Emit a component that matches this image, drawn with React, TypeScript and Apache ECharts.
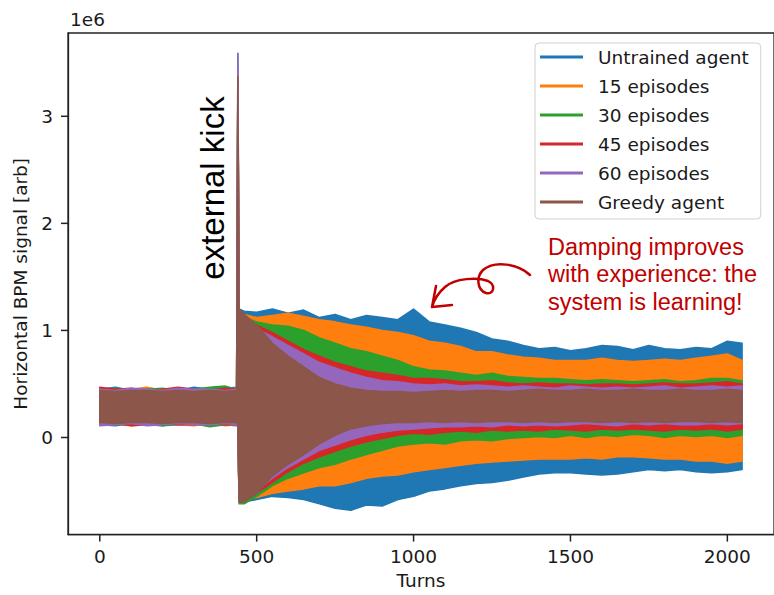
import React, { useEffect, useRef } from "react";
import * as echarts from "echarts";

const turns = [0, 50, 100, 150, 200, 250, 300, 350, 400, 436, 440, 444, 460, 500, 550, 600, 650, 700, 750, 800, 850, 900, 950, 1000, 1050, 1100, 1150, 1200, 1250, 1300, 1350, 1400, 1450, 1500, 1550, 1600, 1650, 1700, 1750, 1800, 1850, 1900, 1950, 2000, 2047];

const seriesNames = ["Untrained agent", "15 episodes", "30 episodes", "45 episodes", "60 episodes", "Greedy agent"];
const seriesColors = ["#1f77b4", "#ff7f0e", "#2ca02c", "#d62728", "#9467bd", "#8c564b"];

// Upper / lower envelopes of each signal, in units of 1e6
const untrainedUpper = [0.45, 0.47, 0.44, 0.46, 0.45, 0.44, 0.47, 0.45, 0.46, 0.47, 3.59, 1.2, 1.18, 1.17, 1.2, 1.16, 1.19, 1.12, 1.15, 1.1, 1.14, 1.12, 1.1, 1.2, 1.08, 1.05, 1.02, 0.98, 0.92, 0.9, 0.86, 0.83, 0.84, 0.81, 0.83, 0.86, 0.85, 0.82, 0.86, 0.83, 0.82, 0.84, 0.83, 0.9, 0.88];
const untrainedLower = [0.12, 0.11, 0.13, 0.12, 0.11, 0.13, 0.12, 0.11, 0.12, 0.11, 0.12, -0.6, -0.6, -0.58, -0.55, -0.56, -0.58, -0.62, -0.66, -0.68, -0.63, -0.64, -0.58, -0.55, -0.5, -0.48, -0.45, -0.43, -0.42, -0.4, -0.37, -0.34, -0.33, -0.33, -0.34, -0.35, -0.34, -0.32, -0.3, -0.31, -0.3, -0.32, -0.33, -0.32, -0.3];

const ep15Upper = [0.46, 0.44, 0.45, 0.47, 0.44, 0.45, 0.44, 0.46, 0.45, 0.46, 3.4, 1.18, 1.15, 1.12, 1.14, 1.16, 1.13, 1.1, 1.08, 1.05, 1.03, 1.0, 0.98, 0.95, 0.9, 0.88, 0.85, 0.8, 0.8, 0.77, 0.75, 0.74, 0.72, 0.72, 0.72, 0.74, 0.72, 0.71, 0.72, 0.73, 0.72, 0.74, 0.76, 0.78, 0.72];
const ep15Lower = [0.12, 0.13, 0.11, 0.12, 0.13, 0.12, 0.11, 0.13, 0.11, 0.12, 0.12, -0.6, -0.58, -0.56, -0.52, -0.5, -0.48, -0.45, -0.45, -0.42, -0.38, -0.36, -0.35, -0.32, -0.3, -0.28, -0.26, -0.24, -0.23, -0.22, -0.21, -0.2, -0.2, -0.2, -0.19, -0.2, -0.18, -0.18, -0.19, -0.2, -0.2, -0.22, -0.22, -0.24, -0.22];

const ep30Upper = [0.45, 0.46, 0.44, 0.45, 0.46, 0.44, 0.45, 0.47, 0.48, 0.45, 3.3, 1.15, 1.12, 1.08, 1.05, 1.04, 1.0, 0.93, 0.88, 0.83, 0.8, 0.76, 0.72, 0.66, 0.63, 0.62, 0.6, 0.58, 0.6, 0.57, 0.56, 0.55, 0.55, 0.54, 0.53, 0.54, 0.53, 0.52, 0.53, 0.54, 0.52, 0.53, 0.55, 0.55, 0.53];
const ep30Lower = [0.13, 0.12, 0.12, 0.13, 0.11, 0.12, 0.13, 0.1, 0.12, 0.12, 0.12, -0.62, -0.62, -0.55, -0.45, -0.38, -0.33, -0.28, -0.25, -0.2, -0.16, -0.12, -0.08, -0.06, -0.05, -0.06, -0.03, -0.02, -0.03, -0.01, 0.0, 0.01, 0.0, 0.02, 0.0, 0.02, 0.01, 0.03, 0.02, 0.0, 0.02, 0.01, 0.02, 0.0, 0.02];

const ep45Upper = [0.47, 0.45, 0.46, 0.44, 0.45, 0.47, 0.45, 0.44, 0.46, 0.45, 3.35, 1.15, 1.1, 1.05, 0.98, 0.9, 0.82, 0.76, 0.7, 0.66, 0.62, 0.6, 0.58, 0.55, 0.55, 0.54, 0.52, 0.52, 0.53, 0.51, 0.5, 0.51, 0.5, 0.5, 0.49, 0.5, 0.5, 0.49, 0.5, 0.51, 0.5, 0.5, 0.51, 0.52, 0.5];
const ep45Lower = [0.12, 0.13, 0.11, 0.12, 0.13, 0.12, 0.12, 0.13, 0.12, 0.12, 0.12, -0.6, -0.6, -0.52, -0.42, -0.32, -0.24, -0.18, -0.13, -0.08, -0.04, -0.01, 0.02, 0.04, 0.03, 0.05, 0.06, 0.05, 0.07, 0.06, 0.07, 0.06, 0.08, 0.07, 0.06, 0.08, 0.07, 0.08, 0.07, 0.06, 0.08, 0.07, 0.08, 0.06, 0.08];

const ep60Upper = [0.45, 0.44, 0.46, 0.45, 0.44, 0.46, 0.45, 0.45, 0.44, 0.45, 3.58, 1.18, 1.1, 1.02, 0.94, 0.86, 0.78, 0.7, 0.65, 0.6, 0.56, 0.53, 0.52, 0.5, 0.49, 0.5, 0.48, 0.49, 0.48, 0.47, 0.48, 0.47, 0.46, 0.48, 0.47, 0.46, 0.47, 0.46, 0.47, 0.48, 0.46, 0.47, 0.48, 0.47, 0.48];
const ep60Lower = [0.11, 0.12, 0.13, 0.11, 0.12, 0.13, 0.12, 0.12, 0.13, 0.12, 0.12, -0.6, -0.58, -0.5, -0.38, -0.28, -0.2, -0.12, -0.07, -0.02, 0.02, 0.05, 0.07, 0.08, 0.09, 0.1, 0.1, 0.11, 0.1, 0.12, 0.11, 0.12, 0.11, 0.12, 0.13, 0.12, 0.11, 0.13, 0.12, 0.13, 0.12, 0.12, 0.13, 0.12, 0.13];

const greedyUpper = [0.44, 0.43, 0.44, 0.44, 0.43, 0.44, 0.43, 0.44, 0.43, 0.44, 3.37, 1.2, 1.15, 1.05, 0.88, 0.76, 0.66, 0.56, 0.5, 0.46, 0.44, 0.43, 0.43, 0.42, 0.43, 0.44, 0.43, 0.44, 0.44, 0.43, 0.44, 0.45, 0.44, 0.44, 0.45, 0.44, 0.44, 0.45, 0.44, 0.44, 0.45, 0.44, 0.44, 0.45, 0.44];
const greedyLower = [0.14, 0.13, 0.14, 0.14, 0.13, 0.14, 0.14, 0.13, 0.14, 0.14, 0.13, -0.6, -0.6, -0.52, -0.36, -0.25, -0.16, -0.06, 0.02, 0.08, 0.11, 0.13, 0.14, 0.14, 0.15, 0.14, 0.15, 0.14, 0.15, 0.15, 0.14, 0.15, 0.14, 0.15, 0.15, 0.14, 0.15, 0.14, 0.15, 0.14, 0.15, 0.15, 0.14, 0.15, 0.14];

const uppers = [untrainedUpper, ep15Upper, ep30Upper, ep45Upper, ep60Upper, greedyUpper];
const lowers = [untrainedLower, ep15Lower, ep30Lower, ep45Lower, ep60Lower, greedyLower];

const xTicks = [0, 500, 1000, 1500, 2000];
const yTicks = [0, 1, 2, 3];

const X_MIN = -101.3;
const X_MAX = 2148.7;
const Y_MIN = -0.907;
const Y_MAX = 3.778;

const ARROW_D =
  "M 530 275 C 518 264, 495 260, 483 270 C 476 277, 477 290, 486 293 C 494 295, 496 285, 488 281 C 478 277, 455 278, 445 287 C 438 293, 434 300, 432 307 M 436 286 L 432 307 L 452 305";

let registered = false;
function registerArrow() {
  if (registered) return;
  echarts.graphic.registerShape("annotArrow", echarts.graphic.extendPath(ARROW_D, {}) as any);
  registered = true;
}

const FONT = "DejaVu Sans";
const TXT = "#1a1a1a";
const SPINE = "#222";

export default function App() {
  const ref = useRef<HTMLDivElement>(null);
  useEffect(() => {
    registerArrow();
    const chart = echarts.init(ref.current!, null, { renderer: "svg" });
    const bandSeries = seriesNames.map((name, k) => {
      const color = seriesColors[k];
      const up = uppers[k];
      const lo = lowers[k];
      return {
        type: "custom",
        name,
        itemStyle: { color },
        clip: true,
        data: turns.map((t, i) => [t, lo[i], up[i]]),
        encode: { x: 0, y: [1, 2] },
        renderItem: (params: any, api: any) => {
          if (params.dataIndex !== 0) return null;
          const pts: number[][] = [];
          for (let i = 0; i < turns.length; i++) pts.push(api.coord([turns[i], up[i]]));
          for (let i = turns.length - 1; i >= 0; i--) pts.push(api.coord([turns[i], lo[i]]));
          return {
            type: "polygon",
            shape: { points: pts },
            style: { fill: color, stroke: color, lineWidth: 1.5, lineJoin: "round" },
          };
        },
      };
    });

    chart.setOption({
      animation: false,
      backgroundColor: "#ffffff",
      textStyle: { fontFamily: FONT },
      grid: {
        left: 68,
        top: 33,
        right: -5,
        bottom: 56,
        show: true,
        borderColor: SPINE,
        borderWidth: 1.3,
        backgroundColor: "transparent",
      },
      xAxis: {
        type: "value",
        min: X_MIN,
        max: X_MAX,
        position: "bottom",
        name: "Turns",
        nameLocation: "middle",
        nameGap: 35,
        nameTextStyle: { fontFamily: FONT, fontSize: 18.5, color: TXT },
        axisLine: { show: true, onZero: false, lineStyle: { color: SPINE, width: 1.3 } },
        splitLine: { show: false },
        axisTick: { show: false },
        axisLabel: {
          customValues: xTicks,
          margin: 0,
          verticalAlign: "top",
          align: "center",
          formatter: (v: number) => "{t| }\n{n|" + String(v) + "}",
          rich: {
            t: { width: 1.5, height: 7, lineHeight: 7, backgroundColor: SPINE, fontSize: 1, align: "center" },
            n: { fontFamily: FONT, fontSize: 18.5, color: TXT, lineHeight: 30, align: "center" },
          },
        },
      },
      yAxis: {
        type: "value",
        min: Y_MIN,
        max: Y_MAX,
        position: "left",
        name: "Horizontal BPM signal [arb]",
        nameLocation: "middle",
        nameGap: 37,
        nameTextStyle: { fontFamily: FONT, fontSize: 18.5, color: TXT },
        axisLine: { show: true, onZero: false, lineStyle: { color: SPINE, width: 1.3 } },
        splitLine: { show: false },
        axisTick: { show: false },
        axisLabel: {
          customValues: yTicks,
          margin: 0,
          align: "right",
          verticalAlign: "middle",
          formatter: (v: number) => "{n|" + String(v) + "}{t| }",
          rich: {
            n: { fontFamily: FONT, fontSize: 18.5, color: TXT, padding: [0, 8, 0, 0], verticalAlign: "middle" },
            t: { width: 7, height: 1.5, lineHeight: 1.5, backgroundColor: SPINE, fontSize: 1, verticalAlign: "middle" },
          },
        },
      },
      legend: {
        data: seriesNames,
        orient: "vertical",
        left: 535,
        top: 43,
        padding: [3, 12, 6, 5],
        itemGap: 7,
        itemWidth: 43,
        itemHeight: 3,
        icon: "rect",
        selectedMode: false,
        backgroundColor: "rgba(255,255,255,0.85)",
        borderColor: "#d0d0d0",
        borderWidth: 1,
        borderRadius: 4,
        textStyle: { fontFamily: FONT, fontSize: 18.5, color: TXT, lineHeight: 22, padding: [0, 0, 0, 10] },
      },
      graphic: [
        {
          type: "text",
          x: 70,
          y: 19,
          style: { text: "1e6", fontFamily: FONT, fontSize: 18.5, fill: TXT, align: "left", verticalAlign: "middle" },
        },
        {
          type: "text",
          x: 212,
          y: 188,
          rotation: Math.PI / 2,
          style: {
            text: "external kick",
            fontFamily: "Liberation Sans",
            fontSize: 33,
            fill: "#000",
            align: "center",
            verticalAlign: "middle",
          },
        },
        {
          type: "text",
          x: 548,
          y: 233,
          style: {
            text: "Damping improves\nwith experience: the\nsystem is learning!",
            fontFamily: "Liberation Sans",
            fontSize: 23.5,
            lineHeight: 27.5,
            fill: "#c00000",
            align: "left",
            verticalAlign: "top",
          },
        },
        {
          type: "annotArrow",
          x: 0,
          y: 0,
          style: { stroke: "#c00000", lineWidth: 2.5, fill: "none", lineCap: "round", lineJoin: "round" },
        },
      ],
      series: bandSeries,
    } as any);

    return () => chart.dispose();
  }, []);
  return (
    <div
      ref={ref}
      style={{ position: "fixed", left: 0, top: 0, width: 774, height: 595, background: "#fff" }}
    />
  );
}
